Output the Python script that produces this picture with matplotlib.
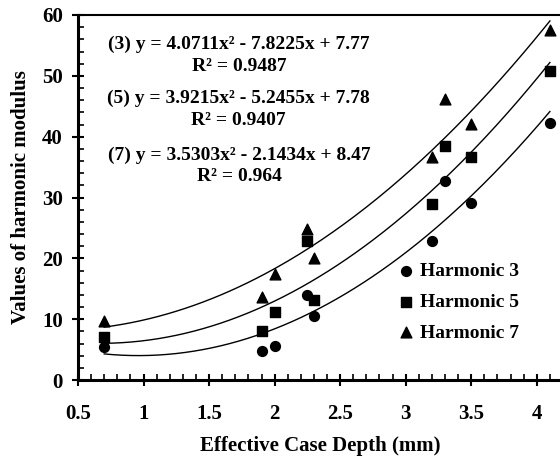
import numpy as np
import matplotlib
matplotlib.use("Agg")
import matplotlib.pyplot as plt
from matplotlib.ticker import MultipleLocator

plt.rcParams['font.family'] = ['Liberation Serif', 'DejaVu Serif']
plt.rcParams['font.weight'] = 'bold'

# effective case depth (mm)
depth = [0.7, 1.9, 2.0, 2.25, 2.3, 3.2, 3.3, 3.5, 4.1]

# harmonic modulus values
harm3 = [5.5, 4.8, 5.6, 14.0, 10.5, 22.8, 32.7, 29.1, 42.3]
harm5 = [7.1, 8.0, 11.1, 22.8, 13.2, 28.9, 38.5, 36.7, 50.8]
harm7 = [9.7, 13.6, 17.5, 24.9, 20.0, 36.6, 46.2, 42.1, 57.6]

# trendline coefficients as printed on the chart (a, b, c)
fits = {
    "3": (4.0711, -7.8225, 7.77),
    "5": (3.9215, -5.2455, 7.78),
    "7": (3.5303, -2.1434, 8.47),
}

fig = plt.figure(figsize=(5.6, 4.57), dpi=100)
ax = fig.add_axes([78 / 560, 1 - 380 / 457, (563 - 78) / 560, (380 - 15) / 457])

ax.scatter(depth, harm3, marker="o", s=50, color="black", label="Harmonic 3", zorder=3)
ax.scatter(depth, harm5, marker="s", s=45, color="black", label="Harmonic 5", zorder=3)
ax.scatter(depth, harm7, marker="^", s=60, color="black", label="Harmonic 7", zorder=3)

xs = np.linspace(min(depth), max(depth), 200)
for key, (a, b, c) in fits.items():
    ax.plot(xs, a * xs**2 + b * xs + c, color="black", lw=1.0)

txt = dict(ha="center", va="center", fontsize=14, fontweight="bold")
ax.text(1.73, 55.1, "(3) y = 4.0711x² - 7.8225x + 7.77", **txt)
ax.text(1.73, 51.5, "R² = 0.9487", **txt)
ax.text(1.72, 46.3, "(5) y = 3.9215x² - 5.2455x + 7.78", **txt)
ax.text(1.72, 42.6, "R² = 0.9407", **txt)
ax.text(1.73, 37.0, "(7) y = 3.5303x² - 2.1434x + 8.47", **txt)
ax.text(1.73, 33.4, "R² = 0.964", **txt)

ax.set_xlim(0.5, 4.2)
ax.set_ylim(0, 60)
ax.xaxis.set_major_locator(MultipleLocator(0.5))
ax.xaxis.set_minor_locator(MultipleLocator(0.1))
ax.yaxis.set_major_locator(MultipleLocator(10))
ax.yaxis.set_minor_locator(MultipleLocator(2))
ax.set_xticks([0.5, 1, 1.5, 2, 2.5, 3, 3.5, 4])
ax.set_xticklabels(["0.5", "1", "1.5", "2", "2.5", "3", "3.5", "4"])

ax.tick_params(which="major", direction="inout", length=8, width=1.5, labelsize=15)
ax.tick_params(which="minor", direction="in", length=4, width=1.2)
ax.tick_params(axis="x", which="major", pad=13)
ax.tick_params(axis="y", which="major", pad=7)
for lab in ax.get_xticklabels() + ax.get_yticklabels():
    lab.set_fontweight("bold")

for side in ["left", "bottom"]:
    ax.spines[side].set_linewidth(2.2)
ax.spines["top"].set_linewidth(1.5)
ax.spines["right"].set_visible(False)

ax.set_xlabel("Effective Case Depth (mm)", fontsize=15, fontweight="bold", labelpad=9)
ax.set_ylabel("Values of harmonic modulus", fontsize=15, fontweight="bold", labelpad=8)

leg = ax.legend(loc="center", bbox_to_anchor=(0.773, 0.214), frameon=False,
                prop={"size": 14, "weight": "bold"}, handletextpad=-0.3,
                labelspacing=0.68, borderaxespad=0)

fig.savefig("out.png", dpi=100)
